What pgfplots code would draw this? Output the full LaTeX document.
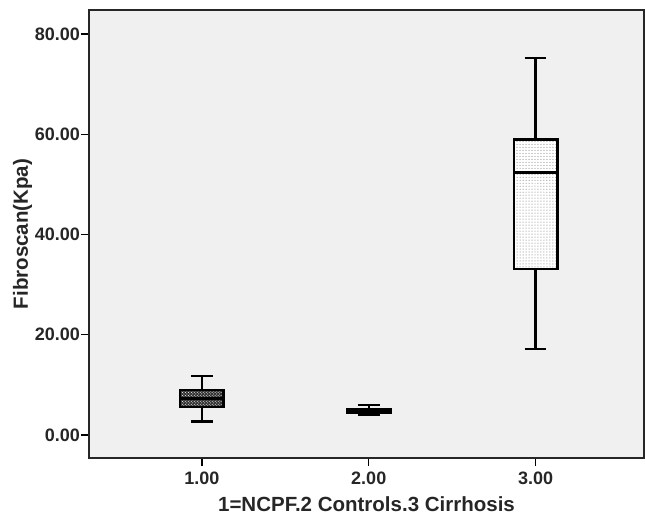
\documentclass[border=0pt]{standalone}
\usepackage{fontspec}
\setmainfont{Liberation Sans}
\usepackage{pgfplots}
\pgfplotsset{compat=1.18}
\usepgfplotslibrary{statistics}
\usetikzlibrary{patterns}

\begin{document}
\begin{tikzpicture}
\begin{axis}[
    at={(0,0)}, anchor=south west,
    scale only axis,
    width=555bp, height=448bp,
    xmin=0.323, xmax=3.65,
    ymin=-4.6, ymax=84.8,
    axis background/.style={fill=black!6},
    axis line style={black!85, line width=1.3bp},
    xtick={1,2,3}, ytick={0,20,40,60,80},
    xtick pos=bottom, ytick pos=left,
    tick align=outside,
    major tick length=8bp,
    tick style={black, line width=1.3bp},
    /pgf/number format/assume math mode=true,
    /pgf/number format/.cd, fixed, fixed zerofill, precision=2, /pgfplots/.cd,
    ticklabel style={font=\fontsize{18bp}{21bp}\selectfont\bfseries, text=black!85},
    xticklabel style={yshift=-2bp},
    yticklabel style={xshift=2.5bp},
    xlabel={1=NCPF.2 Controls.3 Cirrhosis},
    ylabel={Fibroscan(Kpa)},
    label style={font=\fontsize{20.5bp}{24bp}\selectfont\bfseries, text=black!85},
    xlabel style={yshift=-6bp},
    ylabel style={yshift=-4bp},
    boxplot/draw direction=y,
]
% NCPF
\addplot[black, line width=2.5bp, solid, mark=none,
    boxplot/every box/.style={draw=black, fill=black!80,
        postaction={pattern=crosshatch dots, pattern color=white}},
    boxplot prepared={draw position=1, lower whisker=2.7, lower quartile=5.6,
        median=7.3, upper quartile=9.0, upper whisker=11.8,
        box extend=0.26, whisker extend=0.13}]
    coordinates {};
% Controls
\addplot[black, line width=2.5bp, solid, mark=none,
    boxplot/every box/.style={draw=black, fill=black!80},
    boxplot prepared={draw position=2, lower whisker=4.0, lower quartile=4.4,
        median=4.7, upper quartile=5.1, upper whisker=6.0,
        box extend=0.26, whisker extend=0.13}]
    coordinates {};
% Cirrhosis
\addplot[black, line width=2.5bp, solid, mark=none,
    boxplot/every box/.style={draw=black, fill=white,
        postaction={pattern=dots, pattern color=black!60}},
    boxplot prepared={draw position=3, lower whisker=17.2, lower quartile=33.1,
        median=52.4, upper quartile=59.0, upper whisker=75.2,
        box extend=0.26, whisker extend=0.13}]
    coordinates {};
\end{axis}
\pgfresetboundingbox
\path[use as bounding box] (-89bp,-60bp) rectangle (556bp,458bp);
\end{tikzpicture}
\end{document}
